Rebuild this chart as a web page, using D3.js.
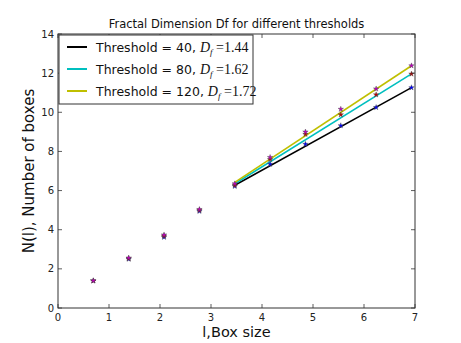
<!DOCTYPE html>
<html><head><meta charset="utf-8">
<script src="https://cdn.jsdelivr.net/npm/d3@7"></script>
<style>body{margin:0;background:#fff}svg{display:block}</style>
</head><body><svg id="c" width="461" height="343"></svg>
<script>
const logSize = [0.693, 1.386, 2.079, 2.773, 3.466, 4.159, 4.852, 5.545, 6.238, 6.931];
const thresholds = [40, 80, 120];
const counts40  = [1.39, 2.50, 3.62, 4.95, 6.22, 7.35, 8.37, 9.32, 10.25, 11.26];
const counts80  = [1.39, 2.53, 3.68, 5.00, 6.28, 7.60, 8.88, 9.88, 10.90, 11.96];
const counts120 = [1.40, 2.56, 3.74, 5.04, 6.35, 7.70, 9.00, 10.16, 11.20, 12.38];
const fitSlope = [1.44, 1.62, 1.72];
const fitIntercept = [1.279, 0.735, 0.458];
const fitRange = [3.466, 6.931];
const xTicks = [0,1,2,3,4,5,6,7];
const yTicks = [0,2,4,6,8,10,12,14];
const lineColors = ["#000000", "#00BFBF", "#BFBF00"];
const markerColors = ["#0000FF", "#BF0000", "#BF00BF"];
const seriesCounts = [counts40, counts80, counts120];

const svg = d3.select("#c");
const m = {l:58, r:415, t:34, b:308};
const x = d3.scaleLinear().domain([0,7]).range([m.l, m.r]);
const y = d3.scaleLinear().domain([0,14]).range([m.b, m.t]);
const frame = "#333";

const line = d3.line().x(d=>x(d[0])).y(d=>y(d[1]));
thresholds.forEach((t,i)=>{
  const pts = fitRange.map(v=>[v, fitIntercept[i] + fitSlope[i]*v]);
  svg.append("path").attr("d", line(pts)).attr("fill","none")
    .attr("stroke", lineColors[i]).attr("stroke-width", 1.6);
});
const star = d3.symbol().type(d3.symbolStar).size(9);
seriesCounts.forEach((arr,i)=>{
  svg.append("g").selectAll("path").data(arr).join("path")
    .attr("d", star)
    .attr("transform",(d,j)=>`translate(${x(logSize[j])},${y(d)})`)
    .attr("fill", markerColors[i]).attr("stroke","#444").attr("stroke-width",0.4);
});

svg.append("rect").attr("x",m.l).attr("y",m.t).attr("width",m.r-m.l).attr("height",m.b-m.t)
  .attr("fill","none").attr("stroke",frame).attr("stroke-width",1);

const tk = svg.append("g").attr("stroke",frame).attr("stroke-width",0.8);
xTicks.forEach(v=>{
  tk.append("line").attr("x1",x(v)).attr("x2",x(v)).attr("y1",m.b).attr("y2",m.b-4);
  tk.append("line").attr("x1",x(v)).attr("x2",x(v)).attr("y1",m.t).attr("y2",m.t+4);
});
yTicks.forEach(v=>{
  tk.append("line").attr("y1",y(v)).attr("y2",y(v)).attr("x1",m.l).attr("x2",m.l+4);
  tk.append("line").attr("y1",y(v)).attr("y2",y(v)).attr("x1",m.r).attr("x2",m.r-4);
});
const font = "DejaVu Sans, sans-serif";
svg.append("g").selectAll("text").data(xTicks).join("text")
  .attr("x",d=>x(d)).attr("y",m.b+13).attr("text-anchor","middle")
  .attr("font-family",font).attr("font-size",10).attr("fill","#222").text(d=>d);
svg.append("g").selectAll("text").data(yTicks).join("text")
  .attr("x",m.l-4).attr("y",d=>y(d)+3.5).attr("text-anchor","end")
  .attr("font-family",font).attr("font-size",10).attr("fill","#222").text(d=>d);

svg.append("text").attr("x",(m.l+m.r)/2).attr("y",28).attr("text-anchor","middle")
  .attr("font-family",font).attr("font-size",11.5).attr("fill","#111")
  .text("Fractal Dimension Df for different thresholds");
svg.append("text").attr("x",(m.l+m.r)/2).attr("y",337).attr("text-anchor","middle")
  .attr("font-family",font).attr("font-size",14.5).attr("fill","#111").text("l,Box size");
svg.append("text").attr("transform",`translate(34,${(m.t+m.b)/2}) rotate(-90)`)
  .attr("text-anchor","middle").attr("font-family",font).attr("font-size",15).attr("fill","#111")
  .text("N(l), Number of boxes");

const lg = svg.append("g");
lg.append("rect").attr("x",59).attr("y",35).attr("width",194).attr("height",69)
  .attr("fill","#fff").attr("stroke",frame).attr("stroke-width",1);
thresholds.forEach((t,i)=>{
  const yy = 47 + i*22;
  lg.append("line").attr("x1",67).attr("x2",87).attr("y1",yy).attr("y2",yy)
    .attr("stroke",lineColors[i]).attr("stroke-width",2);
  const tx = lg.append("text").attr("x",96).attr("y",yy+4.5)
    .attr("font-family",font).attr("font-size",12.5).attr("fill","#111");
  tx.append("tspan").text(`Threshold = ${t}, `);
  tx.append("tspan").attr("font-family","Liberation Serif, serif").attr("font-style","italic").attr("font-size",14).text("D");
  tx.append("tspan").attr("font-family","Liberation Serif, serif").attr("font-style","italic").attr("font-size",9).attr("dy",3).text("f");
  tx.append("tspan").attr("font-family","Liberation Serif, serif").attr("font-size",14).attr("dy",-3).text(" =" + fitSlope[i].toFixed(2));
});
</script></body></html>
